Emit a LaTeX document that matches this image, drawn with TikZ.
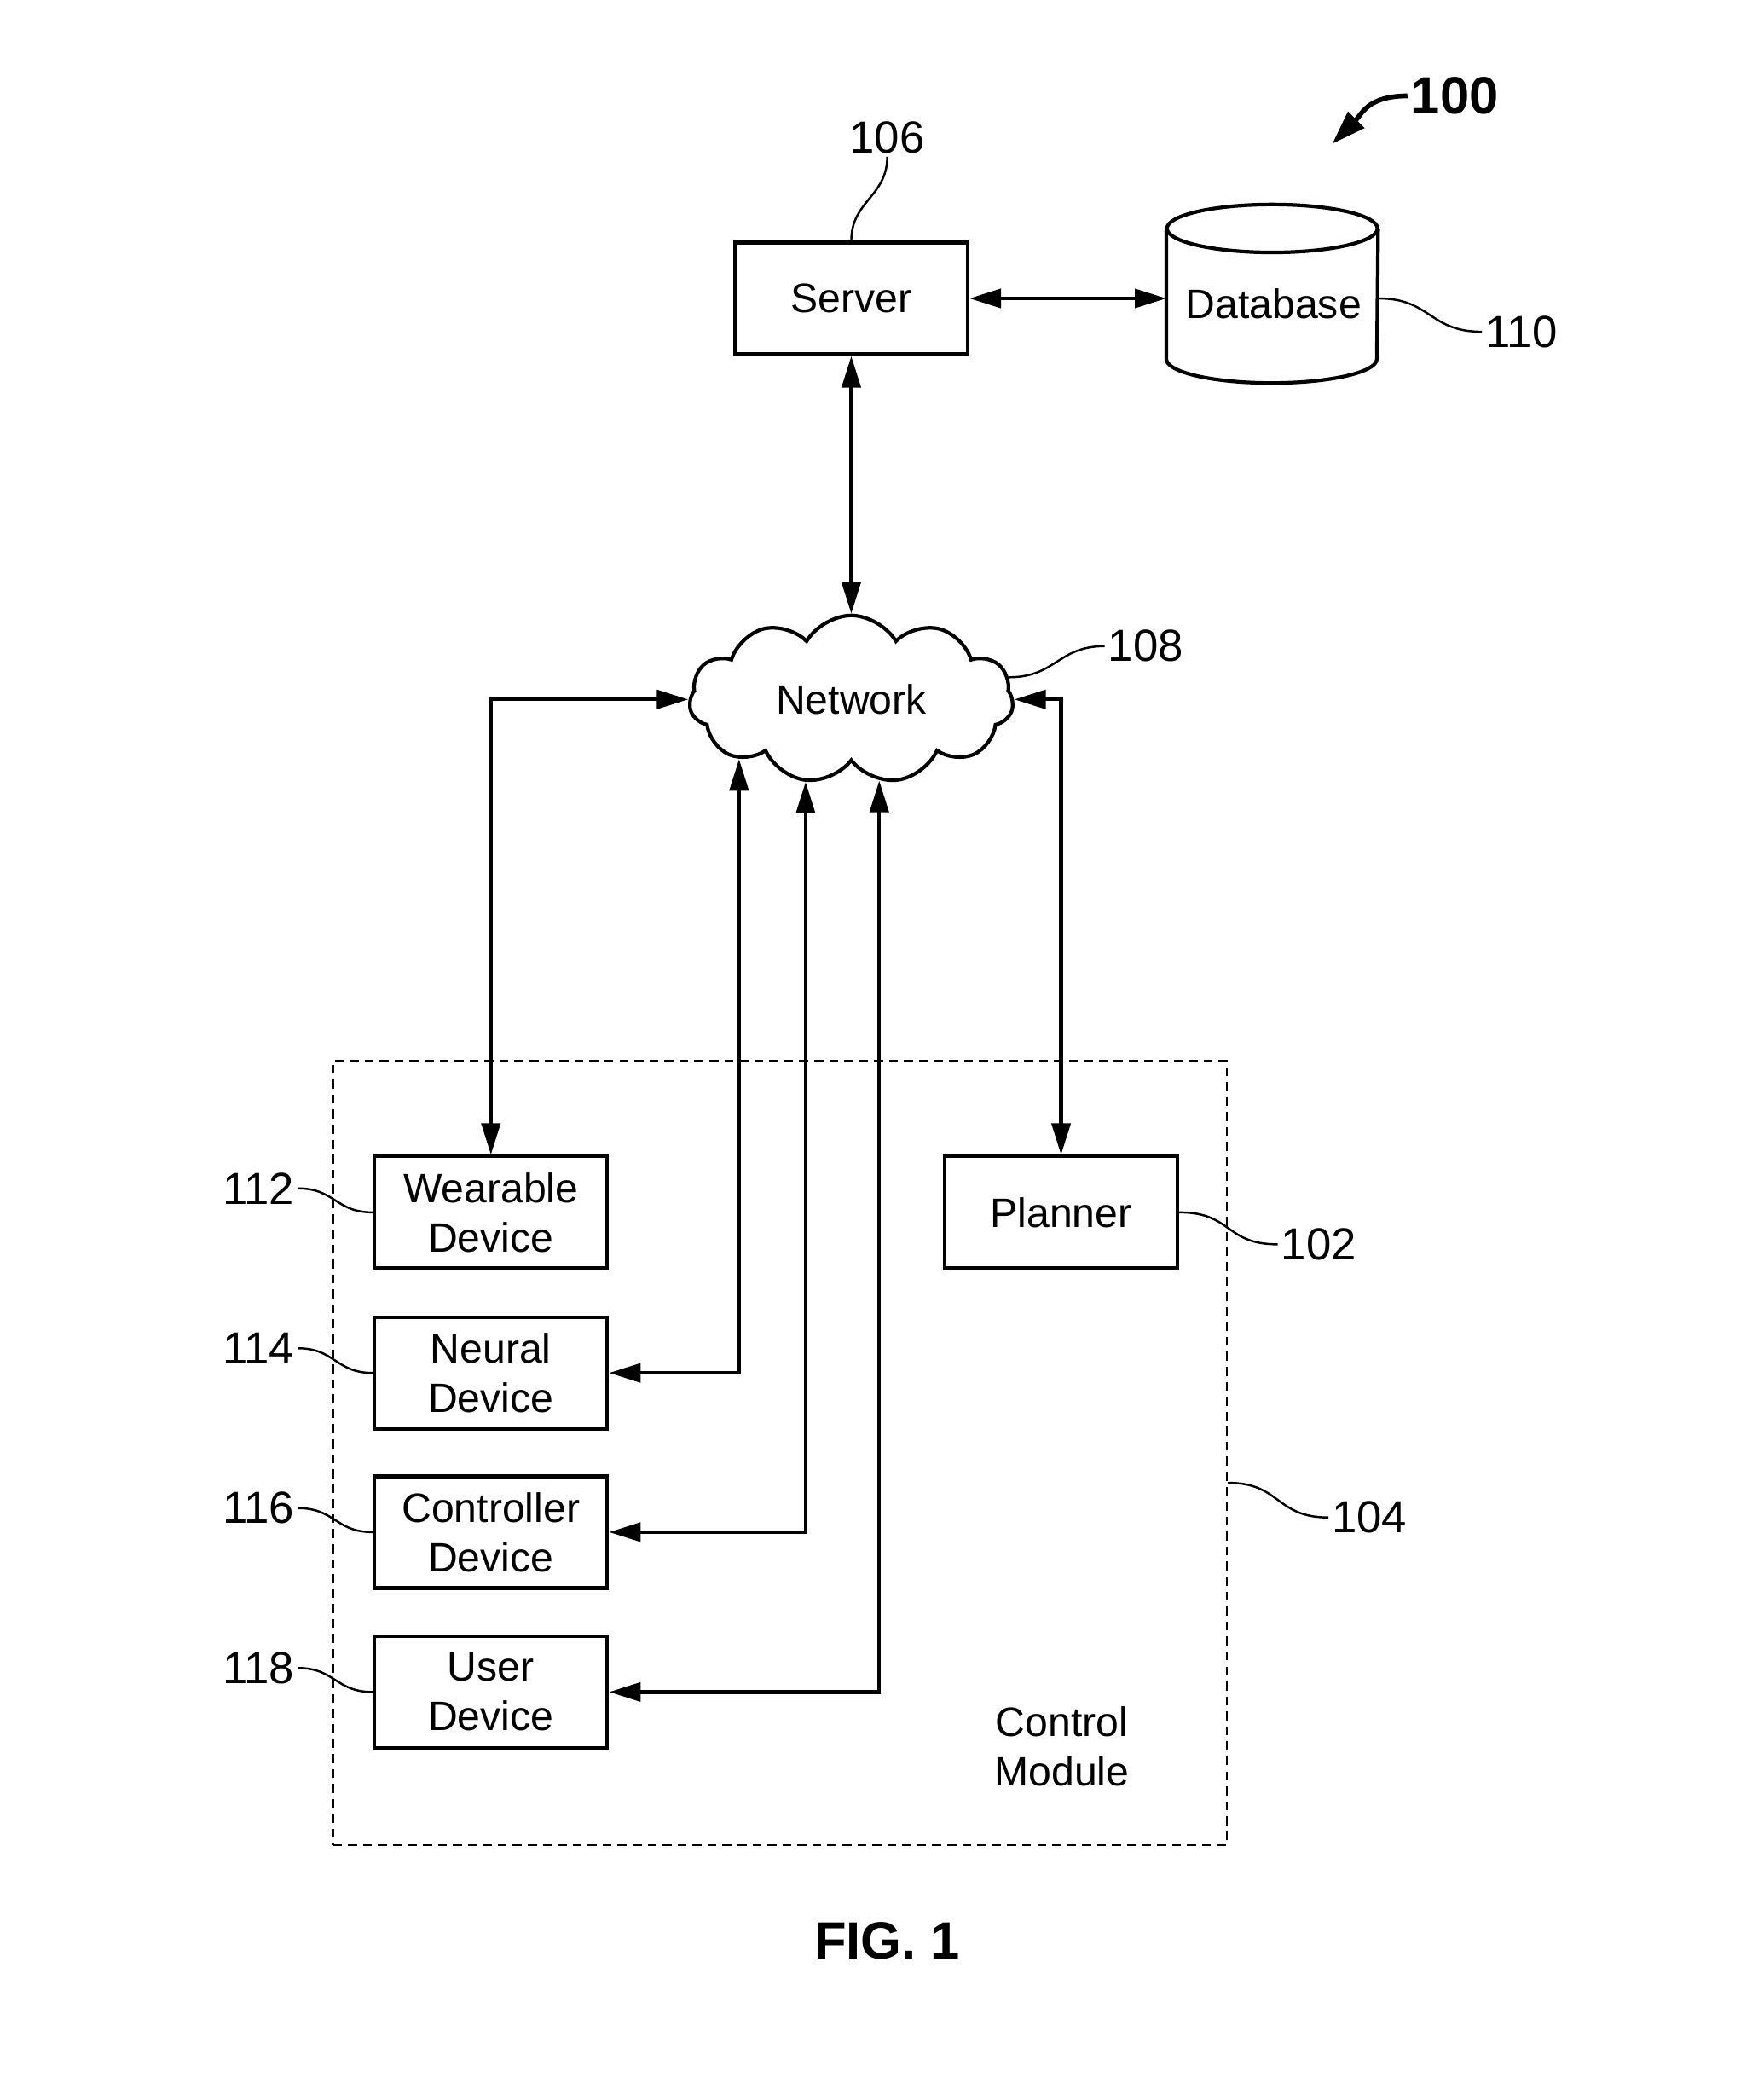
\documentclass[tikz,border=0pt]{standalone}
\usepackage{fontspec}
\setmainfont{Liberation Sans}
\usetikzlibrary{arrows.meta,shapes.symbols,calc}

\begin{document}
\begin{tikzpicture}[x=0.015627cm,y=-0.015627cm,
    txt/.style={font=\fontsize{13.7}{16.5}\selectfont},
    box/.style={txt,draw,line width=1.2pt,minimum width=2.73cm,minimum height=1.31cm,align=center},
    arr/.style={line width=1.2pt,{Triangle[length=3.7mm,width=2.2mm]}-{Triangle[length=3.7mm,width=2.2mm]}},
    lead/.style={line width=0.7pt},
    num/.style={inner sep=1pt,font=\fontsize{15}{18}\selectfont}]
  \useasboundingbox (0,0) rectangle (1324,1568);
  % control module
  \node[draw,dash pattern=on 3pt off 2pt,line width=0.6pt,inner sep=0,
        minimum width=10.486cm,minimum height=9.204cm] (cm) at (585.5,1090.5) {};
  \node[txt,align=center] (cmt) at (797,1311) {Control\\Module};
  % blocks
  \node[box] (srv) at (639,224) {Server};
  \node[box] (wear) at (368.5,910) {Wearable\\Device};
  \node[box] (neu) at (368.5,1030.5) {Neural\\Device};
  \node[box] (ctl) at (368.5,1150) {Controller\\Device};
  \node[box] (usr) at (368.5,1270) {User\\Device};
  \node[box] (plan) at (796.5,910) {Planner};
  \node[txt,cloud,draw,line width=1.2pt,cloud puffs=11,cloud puff arc=120,cloud ignores aspect,
        minimum width=3.8cm,minimum height=1.97cm] (net) at (639,525) {Network};
  % database
  \node[inner sep=0,minimum width=2.47cm,minimum height=2.08cm] (db) at (955,220.5) {};
  \node[txt] (dbt) at (956,228) {Database};
  \draw[line width=1.2pt] (db.north) ++(0,18) ellipse (1.2345cm and 0.281cm);
  \draw[line width=1.2pt] ($(db.north west)+(0,18)$) -- ($(db.south west)+(0,-18)$)
    arc (180:360:1.2345cm and 0.281cm) -- ($(db.north east)+(0,18)$);
  % connectors
  \draw[arr] (srv.east) -- (srv.east -| db.west);
  \draw[arr] (srv.south) -- (net.north);
  \draw[arr] (wear.north) |- (net.west);
  \draw[arr] (neu.east) -| (net.208);
  \draw[arr] (ctl.east) -| (net.241);
  \draw[arr] (usr.east) -| (net.289);
  \draw[arr] (plan.north) |- (net.east);
  % reference numbers
  \node[num] (l106) at (666,103) {106};
  \node[num] (l110) at (1142,249) {110};
  \node[num] (l108) at (860,485) {108};
  \node[num] (l112) at (194,892) {112};
  \node[num] (l114) at (194,1012) {114};
  \node[num] (l116) at (194,1132) {116};
  \node[num] (l118) at (194,1252) {118};
  \node[num] (l102) at (990,934) {102};
  \node[num] (l104) at (1028,1139) {104};
  \draw[lead] (srv.north) .. controls +(0,-30) and +(0,30) .. (l106.south);
  \draw[lead] (srv.east -| db.east) .. controls +(40,0) and +(-40,0) .. (l110.west);
  \draw[lead] (net.8) .. controls +(35,0) and +(-35,0) .. (l108.west);
  \draw[lead] (l112.east) .. controls +(28,0) and +(-28,0) .. (wear.west);
  \draw[lead] (l114.east) .. controls +(28,0) and +(-28,0) .. (neu.west);
  \draw[lead] (l116.east) .. controls +(28,0) and +(-28,0) .. (ctl.west);
  \draw[lead] (l118.east) .. controls +(28,0) and +(-28,0) .. (usr.west);
  \draw[lead] (plan.east) .. controls +(40,0) and +(-40,0) .. (l102.west);
  \draw[lead] ($(cm.east)+(0,22.5)$) .. controls +(40,0) and +(-40,0) .. (l104.west);
  % figure number
  \node[inner sep=1pt,font=\bfseries\fontsize{17.5}{21}\selectfont] (l100) at (1092,72) {100};
  \coordinate (tip100) at (1000,108);
  \draw[line width=1.6pt,-{Triangle[length=4mm,width=2.6mm]}] (l100.west)
    .. controls +(-30,0) and +(22,-22) .. (tip100);
  \node[font=\bfseries\fontsize{17.5}{21}\selectfont] (fig) at (666,1457) {FIG. 1};
\end{tikzpicture}
\end{document}
